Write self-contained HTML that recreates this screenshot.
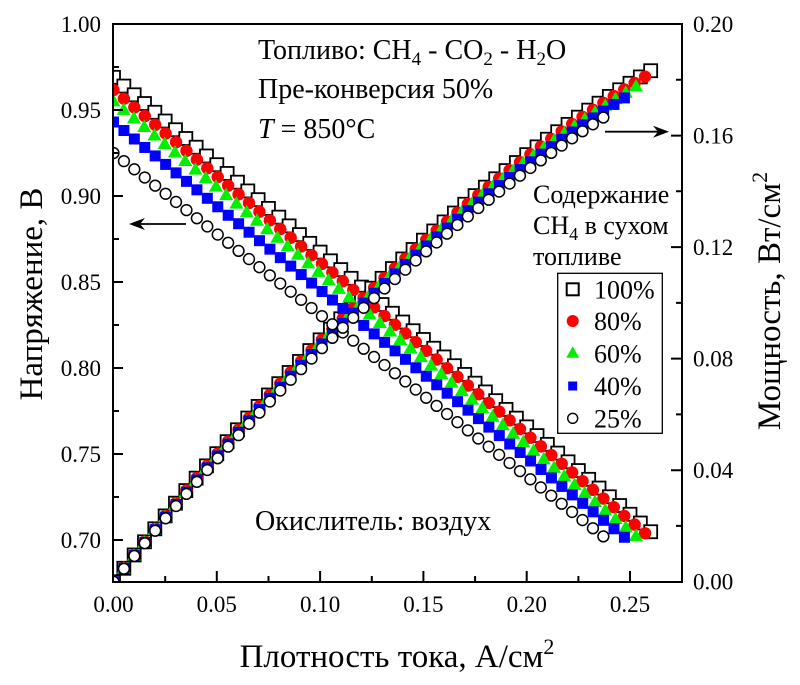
<!DOCTYPE html>
<html><head><meta charset="utf-8"><style>
html,body{margin:0;padding:0;background:#fff;}
svg{display:block;font-family:"Liberation Serif","Times New Roman",serif;}
text,tspan{font-family:"Liberation Serif","Times New Roman",serif;fill:#000;}
</style></head><body>
<svg id="s" width="800" height="685" viewBox="0 0 800 685" xmlns="http://www.w3.org/2000/svg" font-family="Liberation Serif, Times New Roman, serif">
<defs><clipPath id="pc"><rect x="113" y="24" width="569" height="558"/></clipPath></defs>
<rect x="0" y="0" width="800" height="685" fill="#fff"/>
<g id="markers" clip-path="url(#pc)"></g>
<g stroke="#000" stroke-width="2" fill="none">
<rect x="113" y="24" width="569" height="558"/>
<path d="M113 110h10M113 196h10M113 282h10M113 368h10M113 454h10M113 540h10
M113 67h6M113 153h6M113 239h6M113 325h6M113 411h6M113 497h6"/>
<path d="M216.8 582v-11M320.1 582v-11M423.4 582v-11M526.7 582v-11M630 582v-11
M165.2 582v-6M268.5 582v-6M371.8 582v-6M475.1 582v-6M578.4 582v-6"/>
<path d="M682 470.2h-11M682 358.6h-11M682 247.1h-11M682 135.6h-11
M682 525.9h-6M682 414.4h-6M682 302.9h-6M682 191.3h-6M682 79.8h-6"/>
</g>
<g font-size="23" text-anchor="end" font-family="Liberation Serif, serif">
<text x="101" y="32">1.00</text>
<text x="101" y="118">0.95</text>
<text x="101" y="204">0.90</text>
<text x="101" y="290">0.85</text>
<text x="101" y="376">0.80</text>
<text x="101" y="462">0.75</text>
<text x="101" y="548">0.70</text>
</g>
<g font-size="23" text-anchor="middle" font-family="Liberation Serif, serif">
<text x="113.5" y="612">0.00</text>
<text x="216.8" y="612">0.05</text>
<text x="320.1" y="612">0.10</text>
<text x="423.4" y="612">0.15</text>
<text x="526.7" y="612">0.20</text>
<text x="630" y="612">0.25</text>
</g>
<g font-size="23" font-family="Liberation Serif, serif">
<text x="693" y="32">0.20</text>
<text x="693" y="143.6">0.16</text>
<text x="693" y="255.1">0.12</text>
<text x="693" y="366.6">0.08</text>
<text x="693" y="478.2">0.04</text>
<text x="693" y="589.7">0.00</text>
</g>
<text x="397" y="667" font-size="33" text-anchor="middle">Плотность тока, А/см<tspan dy="-13" font-size="22">2</tspan></text>
<text transform="translate(42,294) rotate(-90)" font-size="33" text-anchor="middle">Напряжение, В</text>
<text transform="translate(780,301) rotate(-90)" font-size="33" text-anchor="middle">Мощность, Вт/см<tspan dy="-13" font-size="22">2</tspan></text>
<g font-size="28">
<text x="258" y="59">Топливо: CH<tspan dy="6" font-size="19">4</tspan><tspan dy="-6"> - CO</tspan><tspan dy="6" font-size="19">2</tspan><tspan dy="-6"> - H</tspan><tspan dy="6" font-size="19">2</tspan><tspan dy="-6">O</tspan></text>
<text x="258" y="98">Пре-конверсия 50%</text>
<text x="258" y="138"><tspan font-style="italic">T</tspan> = 850°C</text>
<text x="255" y="530">Окислитель: воздух</text>
</g>
<g font-size="26">
<text x="533" y="203">Содержание</text>
<text x="533" y="234">CH<tspan dy="6" font-size="18">4</tspan><tspan dy="-6"> в сухом</tspan></text>
<text x="533" y="265">топливе</text>
</g>
<g stroke="#000" stroke-width="1.8">
<line x1="186" y1="224" x2="136" y2="224"/>
<line x1="605" y1="131.7" x2="662" y2="131.7"/>
</g>
<path d="M129 224 L145 218 L140 224 L145 230 Z" fill="#000"/>
<path d="M669 131.7 L653 125.7 L658 131.7 L653 137.7 Z" fill="#000"/>
<rect x="557.7" y="273.3" width="104.6" height="160" fill="#fff" stroke="#000" stroke-width="1.3"/>
<rect x="566.7" y="283.3" width="12" height="12" fill="#fff" stroke="#000" stroke-width="2"/>
<circle cx="572.7" cy="321" r="6" fill="#ff0000"/>
<polygon points="572.7,346.3 579.2,357.8 566.2,357.8" fill="#00f000"/>
<rect x="568.2" y="381.5" width="9" height="9" fill="#0000ff"/>
<circle cx="572.7" cy="418.3" r="5" fill="#fff" stroke="#000" stroke-width="1.4"/>
<g font-size="26">
<text x="594" y="298.5">100%</text>
<text x="594" y="330.2">80%</text>
<text x="594" y="362.5">60%</text>
<text x="594" y="395.2">40%</text>
<text x="594" y="427.5">25%</text>
</g>
</svg>
<script>
(function(){
  var NS="http://www.w3.org/2000/svg";
  var g=document.getElementById("markers");
  function X(i){return 113.5+i*2066;}
  function YV(v){return 24+(1-v)*1720;}
  function YP(p){return 581.7-p*2788.5;}
  var series=[
    {v0:0.969,v1:0.7048,ie:0.260,t:"sq"},
    {v0:0.9616,v1:0.7039,ie:0.2573,t:"rc"},
    {v0:0.955,v1:0.7023,ie:0.2529,t:"gt"},
    {v0:0.943,v1:0.7016,ie:0.2473,t:"bs"},
    {v0:0.925,v1:0.7021,ie:0.2371,t:"wc"}
  ];
  function mk(t,x,y){
    var e;
    if(t=="sq"){e=document.createElementNS(NS,"rect");e.setAttribute("x",x-6.5);e.setAttribute("y",y-6.5);e.setAttribute("width",13);e.setAttribute("height",13);e.setAttribute("fill","#fff");e.setAttribute("stroke","#000");e.setAttribute("stroke-width","1.8");}
    else if(t=="rc"){e=document.createElementNS(NS,"circle");e.setAttribute("cx",x);e.setAttribute("cy",y);e.setAttribute("r",6.2);e.setAttribute("fill","#ff0000");}
    else if(t=="gt"){e=document.createElementNS(NS,"polygon");e.setAttribute("points",x+","+(y-7.5)+" "+(x+7)+","+(y+5)+" "+(x-7)+","+(y+5));e.setAttribute("fill","#00f000");}
    else if(t=="bs"){e=document.createElementNS(NS,"rect");e.setAttribute("x",x-5.5);e.setAttribute("y",y-5.5);e.setAttribute("width",11);e.setAttribute("height",11);e.setAttribute("fill","#0000ff");}
    else {e=document.createElementNS(NS,"circle");e.setAttribute("cx",x);e.setAttribute("cy",y);e.setAttribute("r",5.4);e.setAttribute("fill","#fff");e.setAttribute("stroke","#000");e.setAttribute("stroke-width","1.5");}
    g.appendChild(e);
  }
  series.forEach(function(s){
    var N=Math.round(s.ie/0.005)+1;
    for(var k=0;k<N;k++){
      var i=s.ie*k/(N-1);
      var v=s.v0+(s.v1-s.v0)*k/(N-1);
      mk(s.t,X(i),YV(v));
    }
    for(var k=0;k<N;k++){
      var i=s.ie*k/(N-1);
      var v=s.v0+(s.v1-s.v0)*k/(N-1);
      mk(s.t,X(i),YP(i*v));
    }
  });
})();
</script>
</body></html>
